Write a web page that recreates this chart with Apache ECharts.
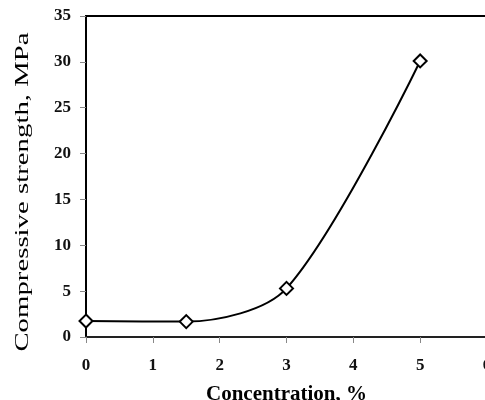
<!DOCTYPE html>
<html>
<head>
<meta charset="utf-8">
<script src="https://cdn.jsdelivr.net/npm/echarts@6/dist/echarts.min.js"></script>
<style>
  html, body { margin: 0; padding: 0; background: #fff; }
  #chart { width: 485px; height: 400px; }
</style>
</head>
<body>
<div id="chart"></div>
<script>
// concentration (%) vs compressive strength (MPa)
var concentration = [0, 1.5, 3, 5];
var strength = [1.74, 1.68, 5.3, 30.1];
var xTicks = [0, 1, 2, 3, 4, 5, 6];
var yTicks = [0, 5, 10, 15, 20, 25, 30, 35];

var serif = '"Liberation Serif", "Times New Roman", serif';

var points = concentration.map(function (c, i) { return [c, strength[i]]; });

var chart = echarts.init(document.getElementById('chart'));
chart.setOption({
  animation: false,
  grid: {
    left: 86,
    top: 16,
    width: 401,
    height: 321,
    containLabel: false,
    outerBoundsMode: 'none',
    show: true,
    borderColor: '#000',
    borderWidth: 2,
    backgroundColor: 'transparent'
  },
  xAxis: {
    type: 'value',
    min: xTicks[0],
    max: xTicks[xTicks.length - 1],
    interval: 1,
    name: 'Concentration, %',
    nameLocation: 'middle',
    nameGap: 47,
    nameTextStyle: { fontFamily: serif, fontWeight: 'bold', fontSize: 21, color: '#000' },
    axisLine: { lineStyle: { color: '#222', width: 2 } },
    axisTick: { show: true, length: 6, lineStyle: { color: '#888', width: 1 } },
    axisLabel: { margin: 20, fontFamily: serif, fontWeight: 'bold', fontSize: 17, color: '#111' },
    splitLine: { show: false }
  },
  yAxis: {
    type: 'value',
    min: yTicks[0],
    max: yTicks[yTicks.length - 1],
    interval: 5,
    axisLine: { show: true, lineStyle: { color: '#000', width: 2 } },
    axisTick: { show: true, length: 6, lineStyle: { color: '#888', width: 1 } },
    axisLabel: { margin: 15, fontFamily: serif, fontWeight: 'bold', fontSize: 17, color: '#111' },
    splitLine: { show: false }
  },
  graphic: [{
    type: 'text',
    x: 23,
    y: 192,
    rotation: Math.PI / 2,
    scaleX: 1.6,
    style: {
      text: 'Compressive strength, MPa',
      font: '18px ' + serif,
      fill: '#000',
      align: 'center',
      verticalAlign: 'middle'
    }
  }],
  series: [{
    type: 'line',
    data: points,
    smooth: 0.3,
    symbol: 'diamond',
    symbolSize: 13,
    lineStyle: { color: '#000', width: 2 },
    itemStyle: { color: '#fff', borderColor: '#000', borderWidth: 2 }
  }]
});
</script>
</body>
</html>
